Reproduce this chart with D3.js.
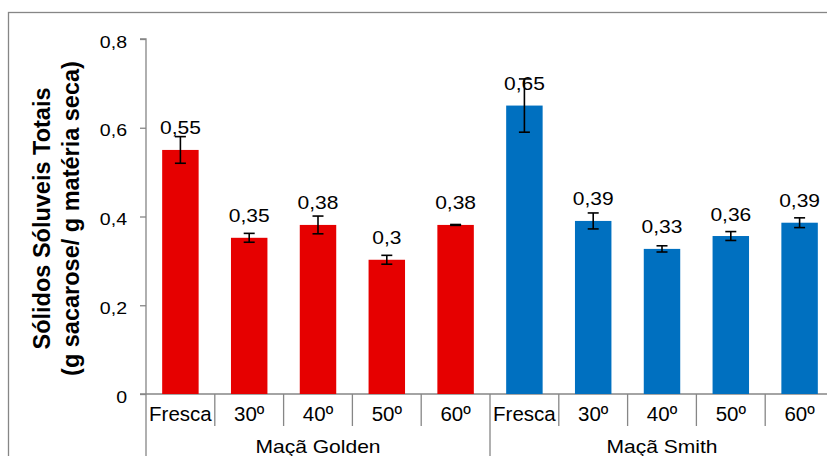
<!DOCTYPE html>
<html>
<head>
<meta charset="utf-8">
<script src="https://cdn.jsdelivr.net/npm/d3@7"></script>
<style>
  html, body { margin: 0; padding: 0; background: #fff; }
  svg { display: block; font-family: "Liberation Sans", Arial, sans-serif; }
</style>
</head>
<body>
<svg id="chart" width="827" height="456"></svg>
<script>
// ---- data ----
const groups = ["Maçã Golden", "Maçã Smith"];
const subcats = ["Fresca", "30º", "40º", "50º", "60º"];
const goldenValues = [0.55, 0.352, 0.381, 0.3025, 0.381];
const goldenErrors = [0.03, 0.01, 0.02, 0.01, 0.001];
const smithValues = [0.65, 0.39, 0.327, 0.356, 0.386];
const smithErrors = [0.06, 0.018, 0.007, 0.01, 0.011];
const yTicks = [0, 0.2, 0.4, 0.6, 0.8];
const yTitle = ["Sólidos Sóluveis Totais", "(g sacarose/ g matéria seca)"];
const colors = ["#E60000", "#0070C0"];

// ---- build rows ----
const seriesValues = [goldenValues, smithValues];
const seriesErrors = [goldenErrors, smithErrors];
const rows = [];
groups.forEach((g, gi) => {
  subcats.forEach((c, ci) => {
    rows.push({ key: g + "|" + c, group: g, gi, cat: c, value: seriesValues[gi][ci], err: seriesErrors[gi][ci] });
  });
});

const svg = d3.select("#chart");
const W = 827, H = 456;
const plotLeft = 146, plotRight = 834, yTop = 39, yBottom = 394;
const gray = "#868686";

// frame
svg.append("rect").attr("x", 8.5).attr("y", 12.5).attr("width", 900).attr("height", 600)
  .attr("fill", "none").attr("stroke", gray).attr("stroke-width", 1.3);

const x = d3.scaleBand().domain(rows.map(r => r.key)).range([plotLeft, plotRight]).padding(0);
const barW = x.bandwidth() * 0.53;
const y = d3.scaleLinear().domain([0, 0.8]).range([yBottom, yTop]);

function fmt(v) { return String(+v.toFixed(2)).replace(".", ","); }
function htext(sel, tx, ty, sx) {
  return sel.attr("transform", `translate(${tx},${ty}) scale(${sx},1)`);
}

// y axis
const yAxis = d3.axisLeft(y).tickValues(yTicks).tickSize(6).tickFormat("");
const gy = svg.append("g").attr("transform", `translate(${plotLeft},0)`).call(yAxis);
gy.select(".domain").attr("stroke", gray).attr("stroke-width", 1.3).attr("d", `M-6,${yTop}H0V${yBottom}`);
gy.selectAll(".tick line").attr("stroke", gray).attr("stroke-width", 1.3);
yTicks.forEach(t => {
  htext(svg.append("text"), 127, y(t) + 8.5, 1.15)
    .attr("text-anchor", "end").attr("font-size", 17).attr("fill", "#000").text(fmt(t));
});

// x axis baseline
svg.append("line").attr("x1", plotLeft - 6).attr("x2", W + 20).attr("y1", yBottom).attr("y2", yBottom)
  .attr("stroke", gray).attr("stroke-width", 1.3);

// category separators
const step = x.step();
for (let i = 0; i <= rows.length; i++) {
  const xx = plotLeft + i * step;
  const isGroup = i % subcats.length === 0;
  svg.append("line").attr("x1", xx).attr("x2", xx).attr("y1", yBottom)
    .attr("y2", isGroup ? H + 5 : 426).attr("stroke", gray).attr("stroke-width", 1.3);
}

// bars
svg.selectAll("rect.bar").data(rows).join("rect").attr("class", "bar")
  .attr("x", d => x(d.key) + (x.bandwidth() - barW) / 2)
  .attr("width", barW)
  .attr("y", d => y(d.value))
  .attr("height", d => y(0) - y(d.value))
  .attr("fill", d => colors[d.gi]);

// error bars
const capW = 11;
rows.forEach(d => {
  const cx = x(d.key) + x.bandwidth() / 2;
  const y1 = y(d.value + d.err), y2 = y(d.value - d.err);
  const g = svg.append("g").attr("stroke", "#000").attr("stroke-width", 1.6);
  g.append("line").attr("x1", cx).attr("x2", cx).attr("y1", y1).attr("y2", y2);
  g.append("line").attr("x1", cx - capW / 2).attr("x2", cx + capW / 2).attr("y1", y1).attr("y2", y1);
  g.append("line").attr("x1", cx - capW / 2).attr("x2", cx + capW / 2).attr("y1", y2).attr("y2", y2);
});

// data labels
rows.forEach(d => {
  const cx = x(d.key) + x.bandwidth() / 2;
  htext(svg.append("text"), cx, y(d.value) - 15.5, 1.2)
    .attr("text-anchor", "middle").attr("font-size", 17.5).attr("fill", "#000").text(fmt(d.value));
});

// category labels
rows.forEach(d => {
  const cx = x(d.key) + x.bandwidth() / 2;
  htext(svg.append("text"), cx, 420.5, 1.0)
    .attr("text-anchor", "middle").attr("font-size", 20.5).attr("fill", "#000").text(d.cat);
});

// group labels
groups.forEach((g, gi) => {
  const x0 = x(g + "|" + subcats[0]);
  const x1 = x(g + "|" + subcats[subcats.length - 1]) + x.bandwidth();
  htext(svg.append("text"), (x0 + x1) / 2, 452.7, 1.19)
    .attr("text-anchor", "middle").attr("font-size", 17.7).attr("fill", "#000").text(g);
});

// y title
const cy = (yTop + yBottom) / 2 + 2;
yTitle.forEach((t, i) => {
  svg.append("text")
    .attr("transform", `translate(${50 + i * 29},${cy}) rotate(-90)`)
    .attr("text-anchor", "middle").attr("font-size", 23.5).attr("font-weight", "bold")
    .attr("fill", "#000").text(t);
});
</script>
</body>
</html>
